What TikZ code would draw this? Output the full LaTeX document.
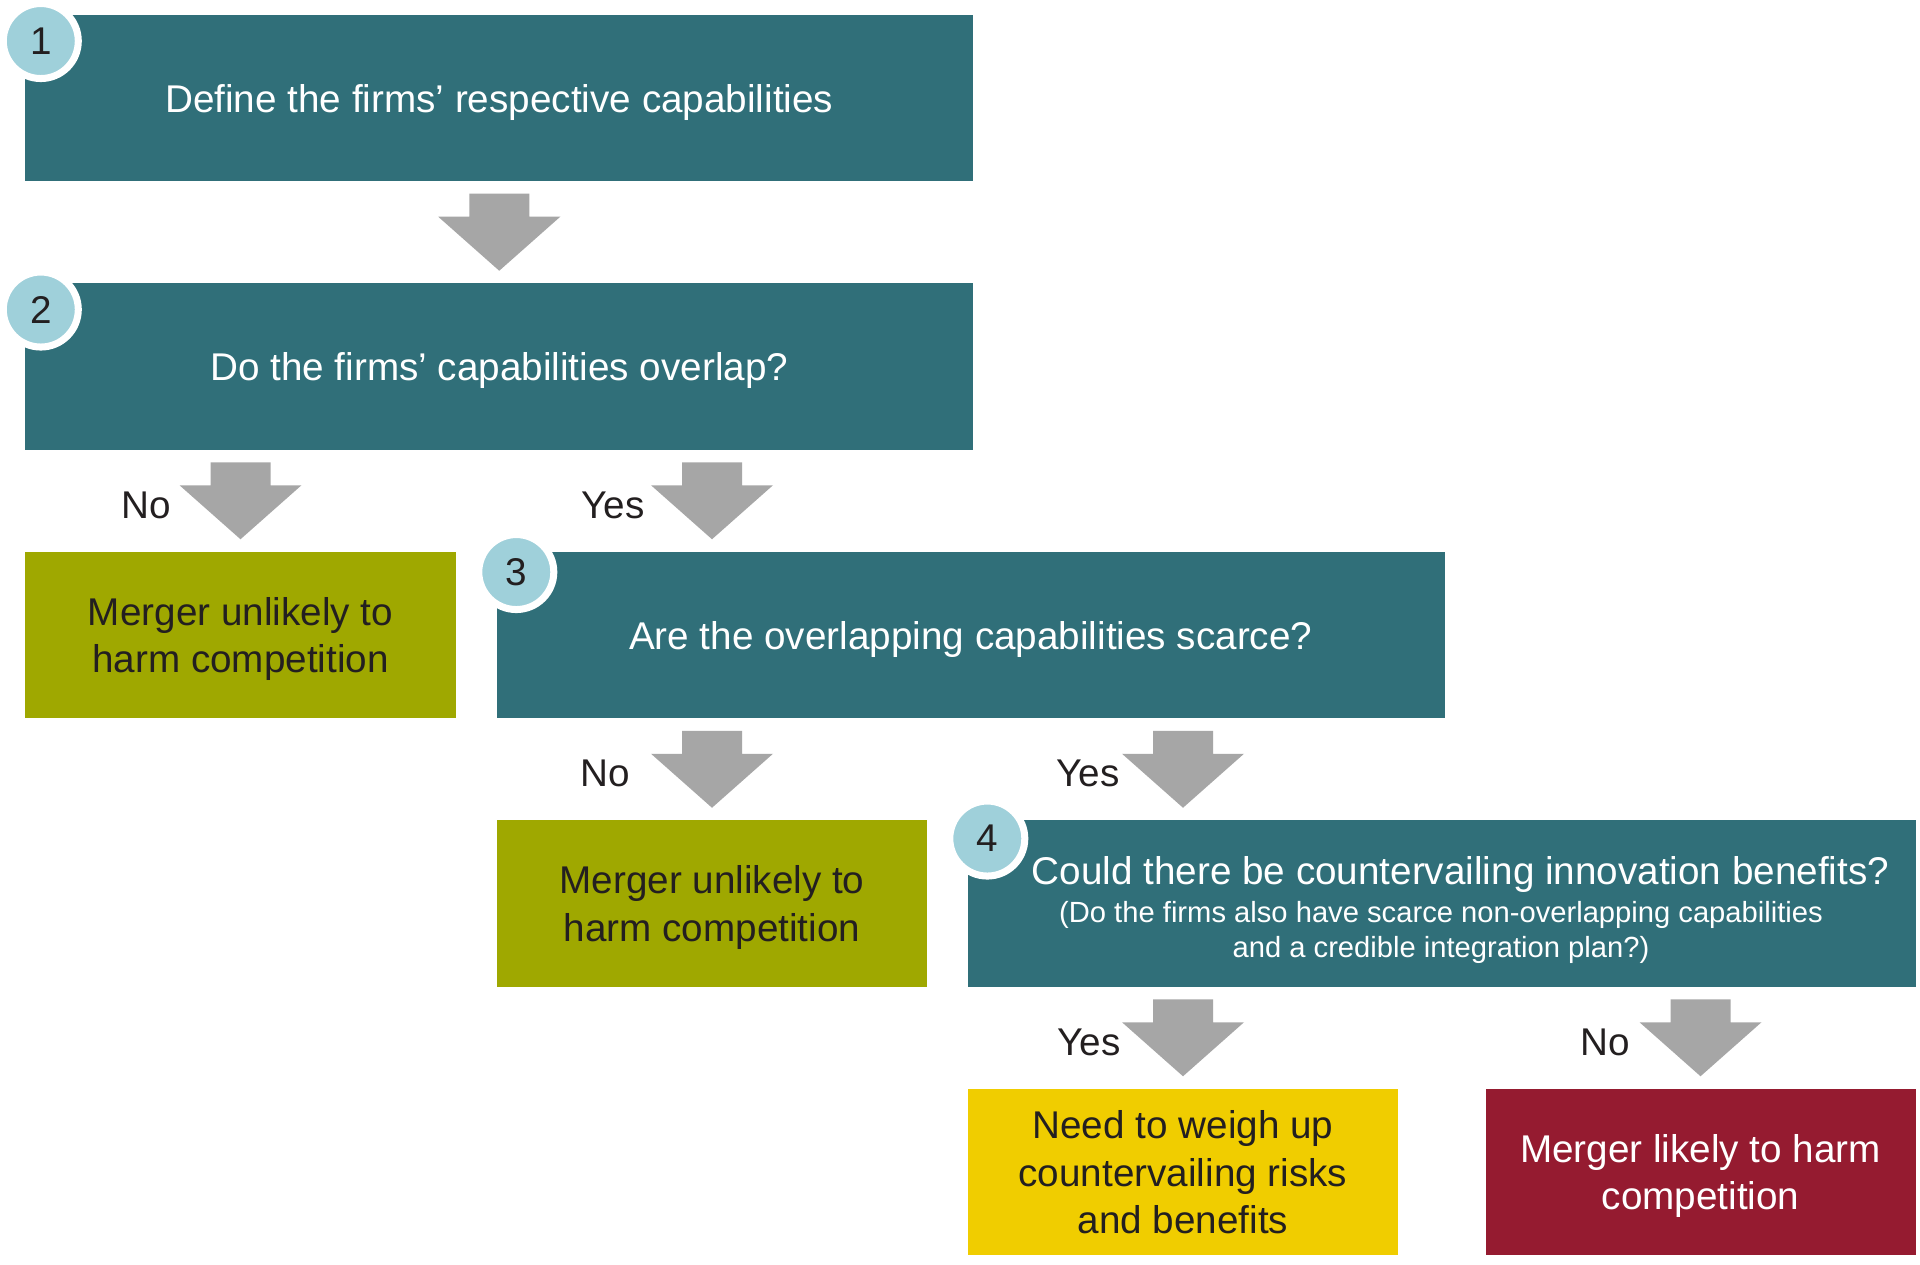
\documentclass[tikz,border=0pt]{standalone}
\usepackage{fontspec}
\setmainfont{Liberation Sans}
\usetikzlibrary{calc}

\definecolor{boxteal}{HTML}{306F79}
\definecolor{boxolive}{HTML}{9FA800}
\definecolor{boxyellow}{HTML}{F0CD00}
\definecolor{boxred}{HTML}{951B30}
\definecolor{arrowgray}{HTML}{A6A6A6}
\definecolor{numblue}{HTML}{9FD0DA}
\definecolor{textdark}{HTML}{231F20}

\tikzset{
	box/.style={rectangle, minimum width=9.475cm, minimum height=1.665cm, inner sep=0pt, text depth=0pt, align=center, font=\fontsize{11}{13.4}\selectfont},
	question/.style={box, fill=boxteal, text=white},
	result/.style={box, minimum width=4.3cm},
	lbl/.style={anchor=east, text=textdark, inner sep=0pt, font=\fontsize{11}{13.4}\selectfont},
	num/.style={circle, fill=numblue, draw=white, line width=2pt, minimum size=0.75cm, inner sep=0pt, text=textdark, font=\fontsize{11}{13}\selectfont}
}

\newcommand*{\flowarrow}[1]{%
	\fill[arrowgray] ($(#1)+(-0.30,0.385)$) -- ++(0.60,0) -- ++(0,-0.23) -- ++(0.31,0)
		-- ($(#1)+(0,-0.385)$) -- ($(#1)+(-0.61,0.155)$) -- ++(0.31,0) -- cycle;}

\begin{document}
\begin{tikzpicture}
	\useasboundingbox (0,0) rectangle (19.2,-12.65);
	\fill[white] (0,0) rectangle (19.2,-12.65);

	% questions
	\node[question] (box1) at (4.9925,-0.98) {Define the firms’ respective capabilities};
	\node[question] (box2) at (4.9925,-3.665) {Do the firms’ capabilities overlap?};
	\node[question] (box3) at (9.7075,-6.35) {Are the overlapping capabilities scarce?};
	\node[question] (box4) at (14.4175,-9.035) {};
	\node[text=white, inner sep=0pt, font=\fontsize{11}{13.4}\selectfont] (q4) at (14.605,-8.745) {Could there be countervailing innovation benefits?};
	\node[text=white, inner sep=0pt, align=center, font=\fontsize{8.3}{10.2}\selectfont] (q4note) at (14.41,-9.325)
		{(Do the firms also have scarce non-overlapping capabilities\\and a credible integration plan?)};

	% outcomes
	\node[result, fill=boxolive, text=textdark] (resA) at (2.405,-6.35) {Merger unlikely to\\harm competition};
	\node[result, fill=boxolive, text=textdark] (resB) at (7.12,-9.035) {Merger unlikely to\\harm competition};
	\node[result, fill=boxyellow, text=textdark] (weigh) at (11.83,-11.72) {Need to weigh up\\countervailing risks\\and benefits};
	\node[result, fill=boxred, text=white] (harm) at (17.005,-11.72) {Merger likely to harm\\competition};

	\foreach \n/\dx/\dy in {1/0.16/0.27, 2/0.16/0.27, 3/0.20/0.21, 4/0.20/0.19}
		\node[num] (n\n) at ($(box\n.north west)+(\dx,-\dy)$) {\n};

	% arrows
	\coordinate (a1) at ($(box1.south)!0.5!(box2.north)$);
	\coordinate (a2n) at ($(box2.south -| resA)!0.5!(resA.north)$);
	\coordinate (a2y) at ($(box2.south -| resB)!0.5!(box3.north -| resB)$);
	\coordinate (a3n) at ($(box3.south -| resB)!0.5!(resB.north)$);
	\coordinate (a3y) at ($(box3.south -| weigh)!0.5!(box4.north -| weigh)$);
	\coordinate (a4y) at ($(box4.south -| weigh)!0.5!(weigh.north)$);
	\coordinate (a4n) at ($(box4.south -| harm)!0.5!(harm.north)$);

	\foreach \a in {a1,a2n,a2y,a3n,a3y,a4y,a4n}
		\flowarrow{\a};

	\foreach \a/\t/\dx in {a2n/No/0.69, a2y/Yes/0.67, a3n/No/0.81, a3y/Yes/0.63, a4y/Yes/0.62, a4n/No/0.70}
		\node[lbl] (l\a) at ($(\a)+(-\dx,-0.045)$) {\t};

\end{tikzpicture}
\end{document}
